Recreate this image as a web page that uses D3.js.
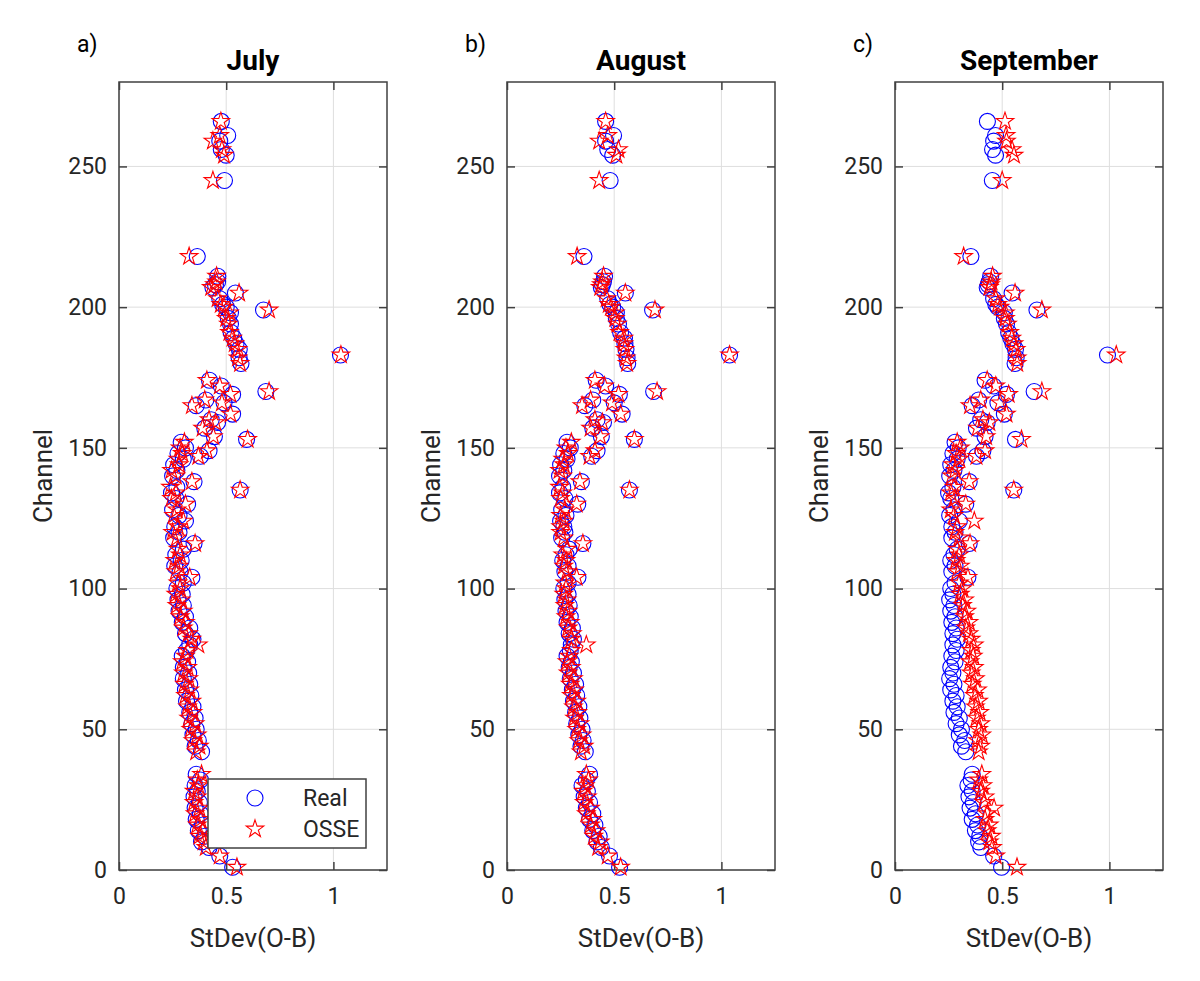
<!DOCTYPE html>
<html>
<head>
<meta charset="utf-8">
<script src="https://cdn.jsdelivr.net/npm/d3@7"></script>
<style>
  body { margin: 0; background: #fff; }
  svg { display: block; font-family: Roboto, sans-serif; }
</style>
</head>
<body>
<svg id="chart"></svg>
<script>
// channel numbers, shared by every panel
const channels = [
  1, 5, 8, 10, 12, 14, 16, 18, 20, 22, 24, 26, 28, 30, 32, 34,
  42, 44, 46, 48, 50, 52, 54, 56, 58, 60, 62, 64, 66, 68, 70, 72, 74, 76, 78, 80,
  82, 84, 86, 88, 90, 92, 94, 96, 98, 100, 102, 104, 106, 108, 110, 112, 114, 116, 118, 120,
  122, 124, 126, 128, 130, 132, 134, 135, 136, 138, 140, 142, 144, 146, 147, 148, 149, 150, 152,
  153, 154, 157, 159, 160, 162, 165, 166, 167, 169, 170, 172, 174,
  180, 182, 183, 185, 187, 189, 191, 194, 196, 198, 199, 200, 201, 203, 205, 207, 208, 209, 211,
  218, 245, 254, 256, 259, 261, 266
];

const julyReal = [
  0.53, 0.47, 0.42, 0.385, 0.40, 0.37, 0.39, 0.36, 0.38, 0.355, 0.375, 0.35, 0.365, 0.355, 0.38, 0.36,
  0.385, 0.355, 0.37, 0.345, 0.36, 0.34, 0.355, 0.33, 0.345, 0.315, 0.335, 0.31, 0.33, 0.30, 0.325, 0.30, 0.32, 0.295, 0.315, 0.33,
  0.345, 0.31, 0.33, 0.295, 0.31, 0.28, 0.30, 0.275, 0.295, 0.27, 0.30, 0.34, 0.285, 0.26, 0.29, 0.265, 0.30, 0.35, 0.255, 0.28,
  0.26, 0.31, 0.28, 0.25, 0.32, 0.265, 0.245, 0.565, 0.27, 0.35, 0.25, 0.27, 0.255, 0.30, 0.38, 0.275, 0.42, 0.31, 0.29,
  0.595, 0.445, 0.40, 0.46, 0.43, 0.53, 0.36, 0.49, 0.405, 0.53, 0.685, 0.477, 0.422,
  0.569, 0.56, 1.033, 0.561, 0.546, 0.535, 0.523, 0.52, 0.51, 0.52, 0.674, 0.50, 0.483, 0.47, 0.543, 0.438, 0.45, 0.46, 0.461,
  0.365, 0.492, 0.50, 0.477, 0.47, 0.507, 0.477
];
const julyOsse = [
  0.55, 0.47, 0.405, 0.395, 0.375, 0.39, 0.365, 0.38, 0.355, 0.375, 0.35, 0.365, 0.35, 0.37, 0.365, 0.385,
  0.36, 0.375, 0.345, 0.365, 0.335, 0.355, 0.325, 0.345, 0.32, 0.34, 0.31, 0.33, 0.305, 0.325, 0.30, 0.32, 0.295, 0.31, 0.32, 0.37,
  0.34, 0.325, 0.30, 0.31, 0.285, 0.30, 0.27, 0.29, 0.265, 0.285, 0.275, 0.33, 0.265, 0.28, 0.26, 0.285, 0.275, 0.355, 0.27, 0.25,
  0.275, 0.30, 0.255, 0.27, 0.31, 0.245, 0.265, 0.565, 0.24, 0.34, 0.265, 0.245, 0.28, 0.275, 0.37, 0.295, 0.41, 0.285, 0.305,
  0.60, 0.44, 0.39, 0.45, 0.42, 0.52, 0.34, 0.48, 0.40, 0.52, 0.70, 0.47, 0.41,
  0.565, 0.555, 1.035, 0.555, 0.54, 0.53, 0.515, 0.51, 0.50, 0.515, 0.70, 0.49, 0.475, 0.46, 0.56, 0.43, 0.445, 0.455, 0.455,
  0.327, 0.438, 0.49, 0.48, 0.438, 0.47, 0.475
];

const augReal = [
  0.525, 0.478, 0.44, 0.42, 0.43, 0.40, 0.41, 0.385, 0.40, 0.37, 0.385, 0.36, 0.375, 0.35, 0.37, 0.385,
  0.365, 0.345, 0.355, 0.335, 0.35, 0.325, 0.34, 0.32, 0.335, 0.31, 0.325, 0.305, 0.32, 0.295, 0.31, 0.29, 0.30, 0.28, 0.295, 0.30,
  0.31, 0.29, 0.305, 0.28, 0.295, 0.275, 0.29, 0.27, 0.285, 0.265, 0.285, 0.331, 0.27, 0.285, 0.26, 0.275, 0.29, 0.354, 0.255, 0.27,
  0.265, 0.25, 0.275, 0.255, 0.33, 0.27, 0.245, 0.571, 0.26, 0.347, 0.245, 0.265, 0.25, 0.28, 0.395, 0.265, 0.42, 0.295, 0.28,
  0.594, 0.44, 0.40, 0.45, 0.42, 0.537, 0.363, 0.50, 0.40, 0.524, 0.684, 0.46, 0.416,
  0.563, 0.56, 1.038, 0.555, 0.55, 0.548, 0.53, 0.52, 0.51, 0.51, 0.679, 0.493, 0.48, 0.47, 0.552, 0.44, 0.445, 0.45, 0.455,
  0.359, 0.481, 0.493, 0.47, 0.46, 0.497, 0.46
];
const augOsse = [
  0.53, 0.47, 0.425, 0.435, 0.405, 0.415, 0.39, 0.40, 0.37, 0.39, 0.36, 0.375, 0.355, 0.365, 0.38, 0.37,
  0.345, 0.36, 0.335, 0.35, 0.325, 0.34, 0.315, 0.33, 0.31, 0.325, 0.30, 0.315, 0.295, 0.31, 0.285, 0.30, 0.28, 0.29, 0.30, 0.37,
  0.30, 0.305, 0.285, 0.295, 0.275, 0.285, 0.27, 0.28, 0.265, 0.275, 0.27, 0.325, 0.28, 0.265, 0.275, 0.26, 0.28, 0.354, 0.265, 0.25,
  0.25, 0.265, 0.25, 0.27, 0.325, 0.25, 0.26, 0.571, 0.245, 0.34, 0.26, 0.245, 0.265, 0.26, 0.385, 0.285, 0.41, 0.275, 0.30,
  0.594, 0.435, 0.39, 0.445, 0.41, 0.53, 0.35, 0.49, 0.39, 0.52, 0.70, 0.455, 0.41,
  0.56, 0.555, 1.038, 0.55, 0.545, 0.545, 0.525, 0.515, 0.505, 0.505, 0.69, 0.485, 0.475, 0.465, 0.552, 0.435, 0.44, 0.445, 0.45,
  0.327, 0.43, 0.51, 0.52, 0.43, 0.47, 0.46
];

const sepReal = [
  0.497, 0.46, 0.40, 0.39, 0.395, 0.375, 0.385, 0.36, 0.375, 0.35, 0.365, 0.345, 0.36, 0.34, 0.355, 0.36,
  0.33, 0.31, 0.325, 0.30, 0.31, 0.285, 0.30, 0.275, 0.29, 0.27, 0.285, 0.26, 0.275, 0.255, 0.27, 0.26, 0.28, 0.265, 0.285, 0.27,
  0.29, 0.27, 0.285, 0.265, 0.28, 0.26, 0.275, 0.255, 0.27, 0.26, 0.28, 0.34, 0.265, 0.28, 0.26, 0.275, 0.29, 0.346, 0.265, 0.28,
  0.265, 0.30, 0.255, 0.275, 0.33, 0.26, 0.25, 0.554, 0.27, 0.346, 0.255, 0.275, 0.26, 0.29, 0.38, 0.27, 0.41, 0.295, 0.28,
  0.562, 0.42, 0.38, 0.43, 0.40, 0.51, 0.36, 0.48, 0.39, 0.52, 0.649, 0.46, 0.42,
  0.56, 0.565, 0.991, 0.562, 0.55, 0.54, 0.53, 0.52, 0.51, 0.51, 0.662, 0.48, 0.47, 0.46, 0.546, 0.43, 0.435, 0.44, 0.446,
  0.354, 0.454, 0.469, 0.455, 0.46, 0.469, 0.431
];
const sepOsse = [
  0.569, 0.47, 0.455, 0.44, 0.45, 0.43, 0.44, 0.42, 0.43, 0.462, 0.415, 0.42, 0.40, 0.41, 0.39, 0.405,
  0.39, 0.40, 0.385, 0.405, 0.39, 0.40, 0.38, 0.395, 0.375, 0.39, 0.37, 0.385, 0.36, 0.375, 0.355, 0.37, 0.35, 0.365, 0.355, 0.37,
  0.355, 0.345, 0.33, 0.345, 0.325, 0.335, 0.315, 0.325, 0.305, 0.315, 0.30, 0.34, 0.29, 0.305, 0.285, 0.30, 0.29, 0.35, 0.30, 0.28,
  0.29, 0.37, 0.275, 0.26, 0.33, 0.28, 0.26, 0.554, 0.275, 0.346, 0.265, 0.28, 0.27, 0.30, 0.38, 0.285, 0.42, 0.305, 0.29,
  0.59, 0.425, 0.385, 0.44, 0.41, 0.52, 0.35, 0.49, 0.40, 0.53, 0.685, 0.47, 0.43,
  0.57, 0.57, 1.032, 0.565, 0.555, 0.545, 0.535, 0.525, 0.515, 0.515, 0.685, 0.49, 0.48, 0.47, 0.56, 0.44, 0.445, 0.45, 0.455,
  0.32, 0.50, 0.555, 0.546, 0.52, 0.518, 0.513
];

const months = ["July", "August", "September"];
const panelTags = ["a)", "b)", "c)"];
const realSeries = [julyReal, augReal, sepReal];
const osseSeries = [julyOsse, augOsse, sepOsse];
const seriesNames = ["Real", "OSSE"];
const xTicks = [0, 0.5, 1];
const yTicks = [0, 50, 100, 150, 200, 250];

const width = 1200, height = 981;
const panel_left = 119, panel_step = 388, panel_w = 268;
const panel_top = 82, panel_h = 788;
const real_color = "#0000ff", osse_color = "#ff0000";
const axis_color = "#404040", grid_color = "#dedede", text_color = "#262626";
const tick_len = 8;
const circle_r = 8;

const svg = d3.select("#chart")
  .attr("width", width)
  .attr("height", height);

const x = d3.scaleLinear().domain([0, 1.25]).range([0, panel_w]);
const y = d3.scaleLinear().domain([0, 280]).range([panel_h, 0]);

const starPath = d3.symbol().type(d3.symbolStar).size(95)();

months.forEach((month, i) => {
  const g = svg.append("g")
    .attr("transform", `translate(${panel_left + i * panel_step},${panel_top})`);

  // grid
  g.selectAll("line.gx").data(xTicks).enter().append("line")
    .attr("x1", d => x(d)).attr("x2", d => x(d))
    .attr("y1", 0).attr("y2", panel_h)
    .attr("stroke", grid_color).attr("stroke-width", 1);
  g.selectAll("line.gy").data(yTicks).enter().append("line")
    .attr("y1", d => y(d)).attr("y2", d => y(d))
    .attr("x1", 0).attr("x2", panel_w)
    .attr("stroke", grid_color).attr("stroke-width", 1);

  // axes, ticks pointing inward
  const xAxis = g.append("g")
    .attr("transform", `translate(0,${panel_h})`)
    .call(d3.axisBottom(x).tickValues(xTicks).tickFormat(d3.format("")).tickSizeInner(-tick_len).tickSizeOuter(0).tickPadding(18));
  const xTop = g.append("g")
    .call(d3.axisTop(x).tickValues(xTicks).tickFormat("").tickSizeInner(-tick_len).tickSizeOuter(0));
  const yAxis = g.append("g")
    .call(d3.axisLeft(y).tickValues(yTicks).tickSizeInner(-tick_len).tickSizeOuter(0).tickPadding(12));
  const yRight = g.append("g")
    .attr("transform", `translate(${panel_w},0)`)
    .call(d3.axisRight(y).tickValues(yTicks).tickFormat("").tickSizeInner(-tick_len).tickSizeOuter(0));

  [xAxis, xTop, yAxis, yRight].forEach(a => {
    a.select(".domain").remove();
    a.selectAll(".tick line").attr("stroke", axis_color).attr("stroke-width", 1.5);
    a.selectAll(".tick text")
      .attr("fill", text_color)
      .attr("font-size", "23px")
      .attr("font-family", "Roboto, sans-serif");
  });

  g.append("rect")
    .attr("width", panel_w).attr("height", panel_h)
    .attr("fill", "none")
    .attr("stroke", axis_color).attr("stroke-width", 1.5);

  const points = channels.map((c, k) => ({ ch: c, real: realSeries[i][k], osse: osseSeries[i][k] }));

  // Real: blue circles
  g.selectAll("circle.real").data(points).enter().append("circle")
    .attr("class", "real")
    .attr("cx", d => x(d.real))
    .attr("cy", d => y(d.ch))
    .attr("r", circle_r)
    .attr("fill", "none")
    .attr("stroke", real_color)
    .attr("stroke-width", 1.1);

  // OSSE: red pentagrams
  g.selectAll("path.osse").data(points).enter().append("path")
    .attr("class", "osse")
    .attr("d", starPath)
    .attr("transform", d => `translate(${x(d.osse)},${y(d.ch)})`)
    .attr("fill", "none")
    .attr("stroke", osse_color)
    .attr("stroke-width", 1.1);

  // title, panel tag, axis labels
  g.append("text")
    .attr("x", panel_w / 2).attr("y", -12)
    .attr("text-anchor", "middle")
    .attr("font-size", "28px").attr("font-weight", "bold")
    .attr("fill", "#000")
    .text(month);

  g.append("text")
    .attr("x", -42).attr("y", -30)
    .attr("font-size", "23px")
    .attr("fill", "#000")
    .text(panelTags[i]);

  g.append("text")
    .attr("x", panel_w / 2).attr("y", panel_h + 77)
    .attr("text-anchor", "middle")
    .attr("font-size", "26px")
    .attr("fill", text_color)
    .text("StDev(O-B)");

  g.append("text")
    .attr("transform", `translate(-67,${panel_h / 2}) rotate(-90)`)
    .attr("text-anchor", "middle")
    .attr("font-size", "26px")
    .attr("fill", text_color)
    .text("Channel");

  // legend only in the first panel
  if (i === 0) {
    const lg = g.append("g").attr("transform", `translate(89,697)`);
    lg.append("rect")
      .attr("width", 158).attr("height", 69)
      .attr("fill", "#fff")
      .attr("stroke", axis_color).attr("stroke-width", 1.5);
    seriesNames.forEach((name, k) => {
      const cy = 19 + k * 31;
      if (k === 0) {
        lg.append("circle").attr("cx", 47).attr("cy", cy).attr("r", circle_r)
          .attr("fill", "none").attr("stroke", real_color).attr("stroke-width", 1.1);
      } else {
        lg.append("path").attr("d", starPath)
          .attr("transform", `translate(47,${cy})`)
          .attr("fill", "none").attr("stroke", osse_color).attr("stroke-width", 1.1);
      }
      lg.append("text")
        .attr("x", 95).attr("y", cy + 8)
        .attr("font-size", "23px")
        .attr("fill", text_color)
        .text(name);
    });
  }
});
</script>
</body>
</html>
